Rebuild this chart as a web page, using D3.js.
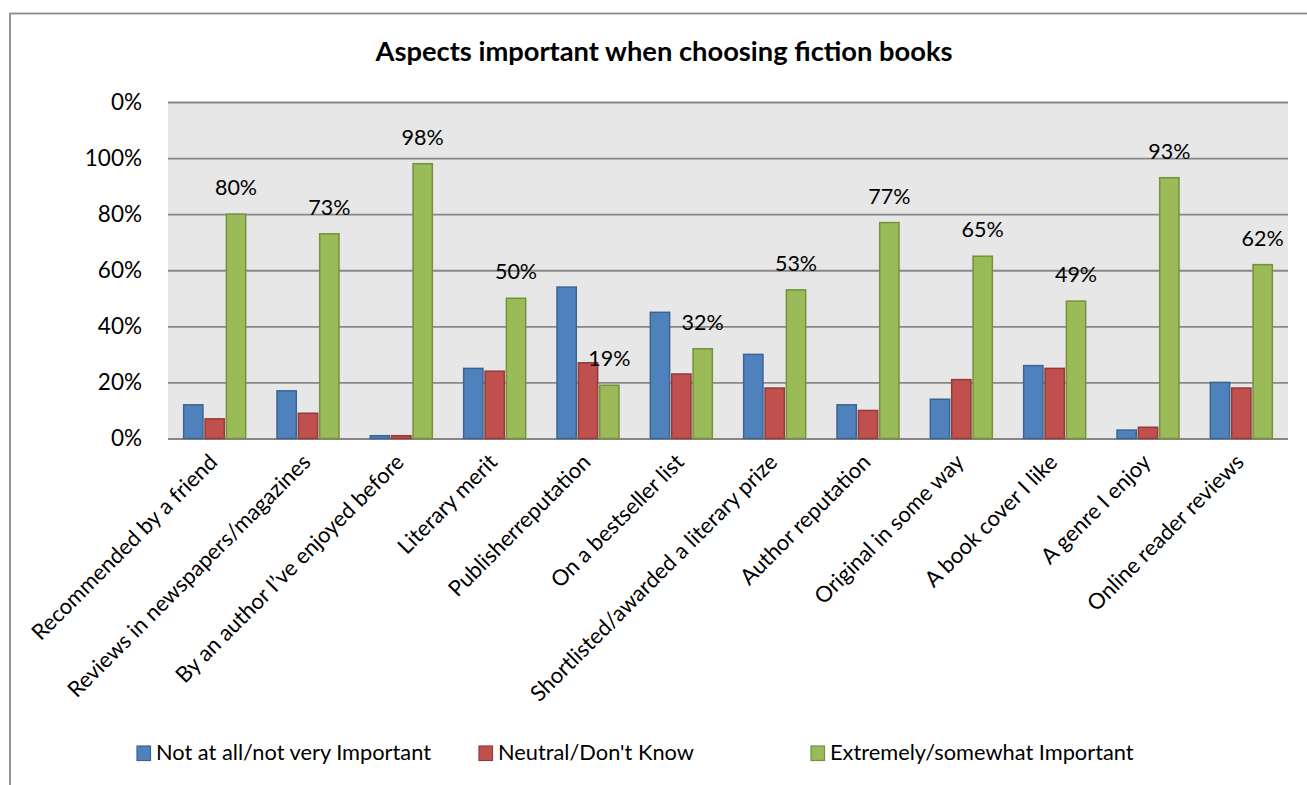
<!DOCTYPE html>
<html>
<head>
<meta charset="utf-8">
<script src="https://cdn.jsdelivr.net/npm/d3@7"></script>
<style>
  html, body { margin: 0; padding: 0; background: #fff; }
  svg { display: block; font-family: Lato, "Open Sans", sans-serif; }
</style>
</head>
<body>
<svg id="chart" width="1307" height="785"></svg>
<script>
// Survey results: share of respondents per answer group, for each aspect
const categories = [
  "Recommended by a friend",
  "Reviews in newspapers/magazines",
  "By an author I\u2019ve enjoyed before",
  "Literary merit",
  "Publisherreputation",
  "On a bestseller list",
  "Shortlisted/awarded a literary prize",
  "Author reputation",
  "Original in some way",
  "A book cover I like",
  "A genre I enjoy",
  "Online reader reviews"
];
const seriesNames = [
  "Not at all/not very Important",
  "Neutral/Don't Know",
  "Extremely/somewhat Important"
];
const notImportant = [12, 17, 1, 25, 54, 45, 30, 12, 14, 26, 3, 20];
const neutral      = [7, 9, 1, 24, 27, 23, 18, 10, 21, 25, 4, 18];
const important    = [80, 73, 98, 50, 19, 32, 53, 77, 65, 49, 93, 62];
const tickValues   = [0, 20, 40, 60, 80, 100, 120];
const tickLabels   = ["0%", "20%", "40%", "60%", "80%", "100%", "0%"];
const titleText    = "Aspects important when choosing fiction books";

const seriesValues = [notImportant, neutral, important];
const fills   = ["#4F81BD", "#C0504D", "#9BBB59"];
const strokes = ["#3A6593", "#923B39", "#76903F"];

const svg = d3.select("#chart");

// outer chart frame (only its top and left edges fall inside the page)
svg.append("rect")
  .attr("x", 10).attr("y", 13.5)
  .attr("width", 1400).attr("height", 900)
  .attr("fill", "none").attr("stroke", "#8a8a8a").attr("stroke-width", 1.8);

const plot = { left: 168, right: 1288, top: 102, bottom: 438.5 };

const y = d3.scaleLinear().domain([0, 120]).range([plot.bottom, plot.top]);
const x = d3.scaleBand().domain(categories)
  .range([plot.left, plot.right])
  .paddingInner(0.325).paddingOuter(0.1625);
const xs = d3.scaleBand().domain(d3.range(seriesNames.length))
  .range([0, x.bandwidth()]).paddingInner(0.05);

// plot background
svg.append("rect")
  .attr("x", plot.left).attr("y", plot.top)
  .attr("width", plot.right - plot.left).attr("height", plot.bottom - plot.top)
  .attr("fill", "#E7E7E7");

// gridlines + y labels
const yAxis = d3.axisLeft(y).tickValues(tickValues)
  .tickSize(-(plot.right - plot.left)).tickPadding(26)
  .tickFormat((d, i) => tickLabels[i]);
const gy = svg.append("g").attr("transform", `translate(${plot.left},0)`).call(yAxis);
gy.select(".domain").remove();
gy.selectAll(".tick line").attr("stroke", "#878787").attr("stroke-width", 1.8);
gy.selectAll(".tick text")
  .attr("fill", "#000").attr("font-size", 22.5).attr("font-family", "Lato, sans-serif");

// bars
const groups = svg.append("g").selectAll("g")
  .data(categories).join("g")
  .attr("transform", d => `translate(${x(d)},0)`);

groups.selectAll("rect")
  .data((d, i) => seriesValues.map((vals, s) => ({ s, v: vals[i] })))
  .join("rect")
  .attr("x", d => xs(d.s) + 0.5)
  .attr("width", xs.bandwidth() - 1)
  .attr("y", d => y(d.v))
  .attr("height", d => y(0) - y(d.v))
  .attr("fill", d => fills[d.s])
  .attr("stroke", d => strokes[d.s])
  .attr("stroke-width", 1.5);

// value labels above the "important" bars
groups.append("text")
  .attr("x", xs(2) + xs.bandwidth() / 2)
  .attr("y", (d, i) => y(important[i]) - 19)
  .attr("text-anchor", "middle")
  .attr("font-size", 21.5)
  .text((d, i) => important[i] + "%");

// category labels, rotated
svg.append("g").selectAll("text")
  .data(categories).join("text")
  .attr("transform", d => `translate(${x(d) + x.bandwidth() / 2 + 4},${plot.bottom + 25}) rotate(-45)`)
  .attr("text-anchor", "end")
  .attr("font-size", 22)
  .text(d => d);

// title
svg.append("text")
  .attr("x", 664).attr("y", 61)
  .attr("text-anchor", "middle")
  .attr("font-size", 27.3).attr("font-weight", "bold")
  .text(titleText);

// legend
const legendX = [137, 479, 811];
const legend = svg.append("g").selectAll("g")
  .data(seriesNames).join("g")
  .attr("transform", (d, i) => `translate(${legendX[i]},746)`);
legend.append("rect")
  .attr("width", 13.5).attr("height", 14.5)
  .attr("fill", (d, i) => fills[i])
  .attr("stroke", (d, i) => strokes[i]).attr("stroke-width", 1.2);
legend.append("text")
  .attr("x", 19).attr("y", 14)
  .attr("font-size", 21.8)
  .text(d => d);
</script>
</body>
</html>
